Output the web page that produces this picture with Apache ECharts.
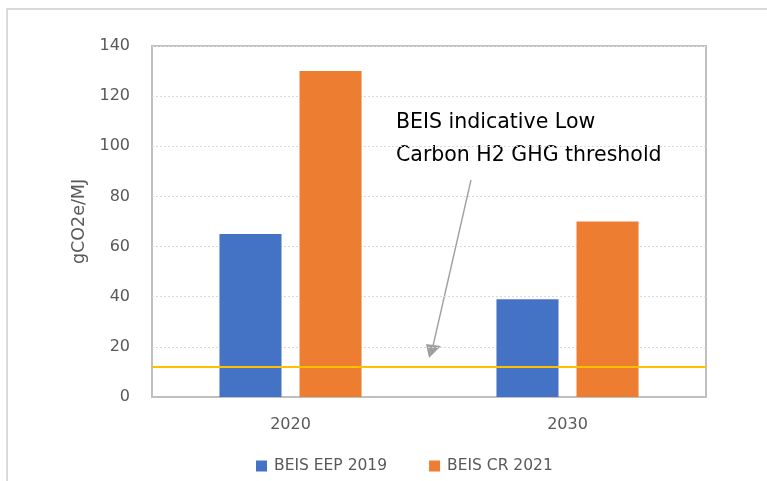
<!DOCTYPE html>
<html>
<head>
<meta charset="utf-8">
<script src="https://cdn.jsdelivr.net/npm/echarts@6/dist/echarts.min.js"></script>
<style>
  html, body { margin: 0; padding: 0; background: #fff; }
  #chart { width: 767px; height: 481px; }
</style>
</head>
<body>
<div id="chart"></div>
<script>
var years = ['2020', '2030'];
var eep2019 = [65, 39];
var cr2021 = [130, 70];
var threshold = 12;
var yTicks = [0, 140, 20]; // min, max, step

var chart = echarts.init(document.getElementById('chart'));
var font = '"DejaVu Sans", sans-serif';

var option = {
    animation: false,
    backgroundColor: '#fff',
    textStyle: { fontFamily: font },
    grid: {
        left: 152, top: 46, right: 61, bottom: 84,
        show: true,
        borderColor: '#bfbfbf',
        borderWidth: 2,
        backgroundColor: 'transparent'
    },
    legend: {
        bottom: 2,
        left: 251,
        itemWidth: 11,
        itemHeight: 11,
        itemGap: 42,
        icon: 'rect',
        textStyle: { color: '#595959', fontSize: 15.5, fontFamily: font, padding: [0, 0, 0, 2] },
        data: ['BEIS EEP 2019', 'BEIS CR 2021']
    },
    xAxis: {
        type: 'category',
        data: years,
        axisLine: { show: true, lineStyle: { color: '#bfbfbf', width: 2 } },
        axisTick: { show: false },
        axisLabel: { color: '#595959', fontSize: 16, margin: 20, fontFamily: font }
    },
    yAxis: {
        type: 'value',
        min: yTicks[0],
        max: yTicks[1],
        interval: yTicks[2],
        name: 'gCO2e/MJ',
        nameLocation: 'middle',
        nameGap: 63,
        nameTextStyle: { color: '#595959', fontSize: 17.5, fontFamily: font },
        axisLine: { show: false },
        axisTick: { show: false },
        axisLabel: { color: '#595959', fontSize: 16, margin: 22, fontFamily: font },
        splitLine: { lineStyle: { color: '#d9d9d9', type: [2, 2], width: 1 } }
    },
    series: [
        {
            name: 'BEIS EEP 2019',
            type: 'bar',
            data: eep2019,
            barWidth: '22.4%',
            barGap: '29%',
            itemStyle: { color: '#4472c4' },
            markLine: {
                silent: true,
                symbol: 'none',
                label: { show: false },
                lineStyle: { color: '#ffc000', width: 2, type: 'solid' },
                data: [{ yAxis: threshold }]
            }
        },
        {
            name: 'BEIS CR 2021',
            type: 'bar',
            data: cr2021,
            barWidth: '22.4%',
            itemStyle: { color: '#ed7d31' }
        }
    ],
    graphic: [
        {
            type: 'rect',
            shape: { x: 7, y: 9, width: 770, height: 480 },
            style: { fill: 'none', stroke: '#d9d9d9', lineWidth: 2 },
            silent: true
        },
        {
            type: 'text',
            left: 396,
            top: 106,
            style: {
                text: 'BEIS indicative Low\nCarbon H2 GHG threshold',
                fill: '#000',
                font: '20.5px ' + font,
                lineHeight: 33
            }
        },
        {
            type: 'line',
            shape: { x1: 471, y1: 180, x2: 433, y2: 346 },
            style: { stroke: '#a0a0a0', lineWidth: 1.4 }
        },
        {
            type: 'polygon',
            shape: { points: [[429, 358], [426, 344], [441, 346]] },
            style: { fill: '#a0a0a0' }
        }
    ]
};

chart.setOption(option);
</script>
</body>
</html>
